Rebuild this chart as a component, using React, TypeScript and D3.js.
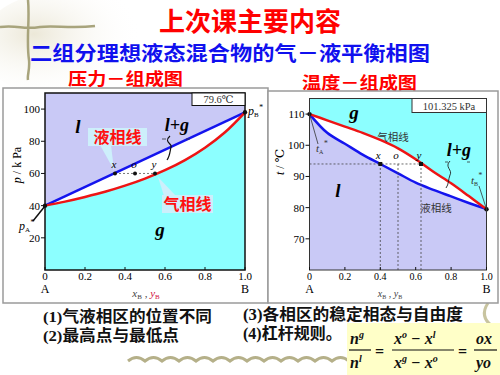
import React from "react";
import * as d3 from "d3";

// ---- data ----
const xTicks = [0, 0.2, 0.4, 0.6, 0.8, 1.0];
const xTickLabels = ["0", "0.2", "0.4", "0.6", "0.8", "1.0"];

// p–x diagram (79.6 ℃)
const pTicks = [20, 40, 60, 80, 100];
const pLiquid: [number, number][] = [
  [0, 40],
  [1, 98],
];
const pVaporX = [0, 0.1, 0.2, 0.3, 0.4, 0.5, 0.6, 0.7, 0.8, 0.9, 1.0];
const pVaporP = [40, 42.5, 45.4, 48.6, 52.4, 56.8, 62, 68.3, 76, 85.6, 98];
const pPoints = [
  { name: "x", xb: 0.35, p: 60 },
  { name: "o", xb: 0.45, p: 60 },
  { name: "y", xb: 0.55, p: 60 },
];

// t–x diagram (101.325 kPa)
const tTicks = [70, 80, 90, 100, 110];
const tGridX = [0, 0.1, 0.2, 0.3, 0.4, 0.5, 0.6, 0.7, 0.8, 0.9, 1.0];
const tLiquid = [110, 104, 100.5, 97, 94, 91, 88, 85.7, 83.6, 81.5, 79.5];
const tVapor = [110, 108, 106, 104, 101.7, 99, 95.5, 91.5, 87.8, 83.7, 79.5];
const tPoints = [
  { name: "x", xb: 0.4, t: 94 },
  { name: "o", xb: 0.5, t: 94 },
  { name: "y", xb: 0.63, t: 94 },
];

const LAV = "#C9C9F6";
const CYAN = "#8CFFFF";
const BLUE = "#1414EE";
const RED = "#EE1414";
const serif = "'Liberation Serif', 'DejaVu Serif', serif";
const cjk = "'Noto Sans CJK SC', sans-serif";

const PChart = () => {
  const x = d3.scaleLinear().domain([0, 1]).range([45, 245]);
  const y = d3.scaleLinear().domain([0, 110]).range([270, 93]);
  const line = d3
    .line<[number, number]>()
    .x((d) => x(d[0]))
    .y((d) => y(d[1]));
  const vapor: [number, number][] = pVaporX.map((v, i) => [v, pVaporP[i]]);
  const lavPoly: [number, number][] = [...pLiquid, [1, 110], [0, 110]];
  const whitePoly: [number, number][] = [...pLiquid, ...vapor.slice().reverse()];
  const [x0, x1] = x.range();
  const [yb, yt] = y.range();
  return (
    <g>
      <rect x={3} y={88} width={265} height={215} fill="#fff" stroke="#9a9a9a" strokeWidth={1.5} />
      <rect x={x0} y={yt} width={x1 - x0} height={yb - yt} fill={CYAN} />
      <path d={line(lavPoly) + "Z"} fill={LAV} />
      <path d={line(whitePoly) + "Z"} fill="#fff" />
      {/* callouts */}
      <path d="M100,145 L111,145 L114,170 Z" fill="#CDEFFB" />
      <rect x={88} y={128} width={59} height={18} fill="#CDEFFB" />
      <text x={117.5} y={143} textAnchor="middle" fill="#FF1010" fontFamily={cjk} fontWeight={700} fontSize={16}>
        液相线
      </text>
      <path d="M164,196 L176,196 L158,177 Z" fill="#CDEFFB" />
      <rect x={162} y={195} width={51} height={18} fill="#CDEFFB" />
      <text x={187.5} y={210} textAnchor="middle" fill="#FF1010" fontFamily={cjk} fontWeight={700} fontSize={16}>
        气相线
      </text>
      <path d={line(pLiquid)!} fill="none" stroke={BLUE} strokeWidth={2.5} />
      <path d={d3.line<[number, number]>().x((d) => x(d[0])).y((d) => y(d[1])).curve(d3.curveCatmullRom)(vapor)!} fill="none" stroke={RED} strokeWidth={2.5} />
      <line x1={x(pPoints[0].xb)} x2={x(pPoints[2].xb)} y1={y(60)} y2={y(60)} stroke="#555" strokeWidth={0.8} strokeDasharray="2,2" />
      {pPoints.map((d) => (
        <g key={d.name}>
          <circle cx={x(d.xb)} cy={y(d.p)} r={2} fill="#111" />
          <text x={x(d.xb) - 1} y={y(d.p) - 5} textAnchor="middle" fontFamily={serif} fontStyle="italic" fontSize={11}>
            {d.name}
          </text>
        </g>
      ))}
      <circle cx={x(0)} cy={y(40)} r={2.2} fill="#111" />
      <circle cx={x(1)} cy={y(98)} r={2.2} fill="#111" />
      {/* frame */}
      <rect x={x0} y={yt} width={x1 - x0} height={yb - yt} fill="none" stroke="#111" strokeWidth={1.5} />
      {pTicks.map((t) => (
        <g key={t}>
          <line x1={x0 - 4} x2={x0} y1={y(t)} y2={y(t)} stroke="#111" />
          <text x={x0 - 5} y={y(t) + 4} textAnchor="end" fontFamily={serif} fontSize={11}>
            {t}
          </text>
        </g>
      ))}
      {xTicks.map((t, i) => (
        <g key={t}>
          <line x1={x(t)} x2={x(t)} y1={yb} y2={yb - 3} stroke="#111" />
          <text x={x(t)} y={280} textAnchor="middle" fontFamily={serif} fontSize={11}>
            {xTickLabels[i]}
          </text>
        </g>
      ))}
      <text x={x0} y={293} textAnchor="middle" fontFamily={serif} fontSize={12}>A</text>
      <text x={x1} y={293} textAnchor="middle" fontFamily={serif} fontSize={12}>B</text>
      <text x={146} y={297} textAnchor="middle" fontFamily={serif} fontSize={11}>
        <tspan fontStyle="italic" fill="#444">x</tspan>
        <tspan fontSize={7} dy={2} fill="#444">B</tspan>
        <tspan dy={-2} fill="#444"> , </tspan>
        <tspan fontStyle="italic" fill="#D01040">y</tspan>
        <tspan fontSize={7} dy={2} fill="#D01040">B</tspan>
      </text>
      <text transform="translate(21,165) rotate(-90)" textAnchor="middle" fontFamily={serif} fontSize={12}>
        <tspan fontStyle="italic">p</tspan> / k Pa
      </text>
      {/* labels */}
      <rect x={192} y={93} width={53} height={12.5} fill="#fff" stroke="#111" strokeWidth={1} />
      <text x={218.5} y={103} textAnchor="middle" fontFamily={serif} fontSize={10.5} fill="#333">79.6℃</text>
      <text x={78} y={133} textAnchor="middle" fontFamily={serif} fontStyle="italic" fontWeight={700} fontSize={19}>l</text>
      <text x={177} y={131} textAnchor="middle" fontFamily={serif} fontStyle="italic" fontWeight={700} fontSize={18}>l+g</text>
      <path d="M162,139 h4 M186,139 h4" stroke="#333" strokeWidth={0.8} />
      <path d="M170,136 C163,142 173,144 171,147 C170,151 170,156 167,160" fill="none" stroke="#111" strokeWidth={1.2} />
      <text x={160} y={236} textAnchor="middle" fontFamily={serif} fontStyle="italic" fontWeight={700} fontSize={19}>g</text>
      <line x1={33} y1={221} x2={45} y2={206} stroke="#111" strokeWidth={1.5} />
      <text x={19} y={230} fontFamily={serif} fontStyle="italic" fontSize={12}>
        p<tspan fontSize={7} fontStyle="normal" dy={2}>A</tspan>
        <tspan fontSize={8} dy={-7}>*</tspan>
      </text>
      <text x={248} y={115} fontFamily={serif} fontStyle="italic" fontSize={12}>
        p<tspan fontSize={7} fontStyle="normal" dy={2}>B</tspan>
        <tspan fontSize={8} dy={-7}>*</tspan>
      </text>
    </g>
  );
};

const TChart = () => {
  const x = d3.scaleLinear().domain([0, 1]).range([309.5, 486.5]);
  const y = d3.scaleLinear().domain([60, 115]).range([270, 98.5]);
  const line = d3
    .line<[number, number]>()
    .x((d) => x(d[0]))
    .y((d) => y(d[1]));
  const liq: [number, number][] = tGridX.map((v, i) => [v, tLiquid[i]]);
  const vap: [number, number][] = tGridX.map((v, i) => [v, tVapor[i]]);
  const cyanPoly: [number, number][] = [...vap, [1, 115], [0, 115]];
  const whitePoly: [number, number][] = [...vap, ...liq.slice().reverse()];
  const smooth = d3.line<[number, number]>().x((d) => x(d[0])).y((d) => y(d[1])).curve(d3.curveCatmullRom);
  const [x0, x1] = x.range();
  const [yb, yt] = y.range();
  return (
    <g>
      <rect x={268} y={91} width={230} height={212} fill="#fff" stroke="#9a9a9a" strokeWidth={1.5} />
      <rect x={x0} y={yt} width={x1 - x0} height={yb - yt} fill={LAV} />
      <path d={line(cyanPoly) + "Z"} fill={CYAN} />
      <path d={line(whitePoly) + "Z"} fill="#fff" />
      <path d={smooth(liq)!} fill="none" stroke={BLUE} strokeWidth={2.5} />
      <path d={smooth(vap)!} fill="none" stroke={RED} strokeWidth={2.5} />
      <line x1={x0} x2={x(tPoints[2].xb)} y1={y(94)} y2={y(94)} stroke="#444" strokeWidth={0.8} strokeDasharray="2,2" />
      {tPoints.map((d) => (
        <g key={d.name}>
          <line x1={x(d.xb)} x2={x(d.xb)} y1={y(d.t)} y2={yb} stroke="#444" strokeWidth={0.8} strokeDasharray="2,2" />
          {d.name !== "o" && <rect x={x(d.xb) - 2} y={y(d.t) - 2} width={4} height={4} fill="#111" />}
          <text x={x(d.xb) - 2} y={y(d.t) - 5} textAnchor="middle" fontFamily={serif} fontStyle="italic" fontSize={11}>
            {d.name}
          </text>
        </g>
      ))}
      <circle cx={x(0)} cy={y(110)} r={2.2} fill="#111" />
      <circle cx={x(1)} cy={y(79.5)} r={2.2} fill="#111" />
      <rect x={x0} y={yt} width={x1 - x0} height={yb - yt} fill="none" stroke="#333" strokeWidth={1} />
      {tTicks.map((t) => (
        <g key={t}>
          <line x1={x0 - 4} x2={x0} y1={y(t)} y2={y(t)} stroke="#111" />
          <text x={x0 - 5} y={y(t) + 4} textAnchor="end" fontFamily={serif} fontSize={11}>
            {t}
          </text>
        </g>
      ))}
      {xTicks.map((t, i) => (
        <g key={t}>
          <line x1={x(t)} x2={x(t)} y1={yb} y2={yb - 3} stroke="#111" />
          <text x={x(t)} y={280} textAnchor="middle" fontFamily={serif} fontSize={10}>
            {xTickLabels[i]}
          </text>
        </g>
      ))}
      <text x={x0} y={293} textAnchor="middle" fontFamily={serif} fontSize={12}>A</text>
      <text x={x1} y={293} textAnchor="middle" fontFamily={serif} fontSize={12}>B</text>
      <text x={390} y={297} textAnchor="middle" fontFamily={serif} fontSize={10} fill="#444">
        <tspan fontStyle="italic">x</tspan>
        <tspan fontSize={6} dy={2}>B</tspan>
        <tspan dy={-2}> , </tspan>
        <tspan fontStyle="italic">y</tspan>
        <tspan fontSize={6} dy={2}>B</tspan>
      </text>
      <text transform="translate(284,162) rotate(-90)" textAnchor="middle" fontFamily={serif} fontSize={12}>
        <tspan fontStyle="italic">t</tspan> / ℃
      </text>
      <rect x={412} y={98.5} width={74.5} height={14} fill="#fff" stroke="#333" strokeWidth={1} />
      <text x={449} y={109.5} textAnchor="middle" fontFamily={serif} fontSize={10.5} fill="#333">101.325 kPa</text>
      <text x={354} y={119} textAnchor="middle" fontFamily={serif} fontStyle="italic" fontWeight={700} fontSize={19}>g</text>
      <text x={338} y={197} textAnchor="middle" fontFamily={serif} fontStyle="italic" fontWeight={700} fontSize={19}>l</text>
      <text x={459} y={156} textAnchor="middle" fontFamily={serif} fontStyle="italic" fontWeight={700} fontSize={18}>l+g</text>
      <path d="M445,162 h3 M467,162 h3" stroke="#333" strokeWidth={0.8} />
      <path d="M450,161 C444,167 453,170 450,175 C448,180 449,184 446,188" fill="none" stroke="#222" strokeWidth={0.9} />
      <text x={393} y={141} textAnchor="middle" fontFamily={cjk} fontSize={10.5} fill="#333">气相线</text>
      <text x={436} y={212} textAnchor="middle" fontFamily={cjk} fontSize={10.5} fill="#333">液相线</text>
      <line x1={x(0)} y1={y(110)} x2={318} y2={144} stroke="#333" strokeWidth={0.8} />
      <text x={316} y={152} fontFamily={serif} fontStyle="italic" fontSize={11} fill="#333">
        t<tspan fontSize={6} fontStyle="normal" dy={2}>A</tspan>
        <tspan fontSize={8} dy={-8}>*</tspan>
      </text>
      <line x1={x(1)} y1={y(79.5)} x2={479} y2={186} stroke="#333" strokeWidth={0.8} />
      <text x={471} y={184} fontFamily={serif} fontStyle="italic" fontSize={11} fill="#333">
        t<tspan fontSize={6} fontStyle="normal" dy={2}>B</tspan>
        <tspan fontSize={8} dy={-8}>*</tspan>
      </text>
    </g>
  );
};

const wave = (() => {
  let d = "M128,361";
  for (let i = 0; i < 13; i++) {
    const sx = 128 + i * 17;
    d += ` Q${sx + 8.5},354 ${sx + 17},361`;
  }
  return d;
})();

export default function App() {
  const frac = { fontFamily: serif, fontStyle: "italic", fontWeight: 700, fontSize: 16 } as const;
  return (
    <svg width={500} height={375} style={{ position: "absolute", left: 0, top: 0, background: "#fff" }}>
      <defs>
        <radialGradient id="wash" cx="0.3" cy="0.4" r="0.6">
          <stop offset="0%" stopColor="#ECE8D8" />
          <stop offset="100%" stopColor="#ffffff" stopOpacity={0} />
        </radialGradient>
      </defs>
      <ellipse cx={70} cy={45} rx={90} ry={55} fill="url(#wash)" />
      <path d="M0,27 C20,25 22,30 40,27 C55,25 70,29 95,26" fill="none" stroke="#A8A47C" strokeWidth={2.5} />
      <path d="M28,0 C30,20 26,40 29,60 C30,70 27,75 28,80" fill="none" stroke="#A8A47C" strokeWidth={2.5} />
      <path d={wave} fill="none" stroke="#B5B089" strokeWidth={3} />
      <path d="M488,303 C482,312 484,320 492,326" fill="none" stroke="#C8C4A0" strokeWidth={3} />

      <text x={250} y={31} textAnchor="middle" fill="#FF0000" fontFamily={cjk} fontWeight={700} fontSize={26}>
        上次课主要内容
      </text>
      <text x={30} y={61} fill="#1010EE" fontFamily={cjk} fontWeight={700} fontSize={20} textLength={400} lengthAdjust="spacingAndGlyphs">
        二组分理想液态混合物的气－液平衡相图
      </text>
      <text x={68} y={85} fill="#FF0000" fontFamily={cjk} fontWeight={700} fontSize={17} textLength={115} lengthAdjust="spacingAndGlyphs">
        压力－组成图
      </text>
      <text x={302} y={89} fill="#FF0000" fontFamily={cjk} fontWeight={700} fontSize={17} textLength={115} lengthAdjust="spacingAndGlyphs">
        温度－组成图
      </text>

      <PChart />
      <TChart />

      <g fontFamily={`${serif.split(",")[0]}, ${cjk}`} fontWeight={700} fill="#111">
        <text x={43} y={322} fontSize={15.5} textLength={169} lengthAdjust="spacingAndGlyphs">(1)气液相区的位置不同</text>
        <text x={43} y={341} fontSize={15.5} textLength={136} lengthAdjust="spacingAndGlyphs">(2)最高点与最低点</text>
        <text x={243} y={320} fontSize={16} textLength={220} lengthAdjust="spacingAndGlyphs">(3)各相区的稳定相态与自由度</text>
        <text x={243} y={339} fontSize={16}>(4)杠杆规则。</text>
      </g>

      <rect x={347} y={323} width={153} height={52} fill="#FFFFC8" />
      <g {...frac} fill="#111">
        <text x={350} y={344}>n<tspan fontSize={10} dy={-6}>g</tspan></text>
        <line x1={349} x2={371} y1={350} y2={350} stroke="#111" strokeWidth={1.2} />
        <text x={350} y={368}>n<tspan fontSize={10} dy={-6}>l</tspan></text>
        <text x={375} y={357} fontStyle="normal">=</text>
        <text x={394} y={344}>x<tspan fontSize={10} dy={-6}>o</tspan><tspan dy={6}> − x</tspan><tspan fontSize={10} dy={-6}>l</tspan></text>
        <line x1={392} x2={454} y1={350} y2={350} stroke="#111" strokeWidth={1.2} />
        <text x={394} y={368}>x<tspan fontSize={10} dy={-6}>g</tspan><tspan dy={6}> − x</tspan><tspan fontSize={10} dy={-6}>o</tspan></text>
        <text x={458} y={357} fontStyle="normal">=</text>
        <text x={476} y={344}>ox</text>
        <line x1={474} x2={497} y1={350} y2={350} stroke="#111" strokeWidth={1.2} />
        <text x={476} y={368}>yo</text>
      </g>
    </svg>
  );
}
